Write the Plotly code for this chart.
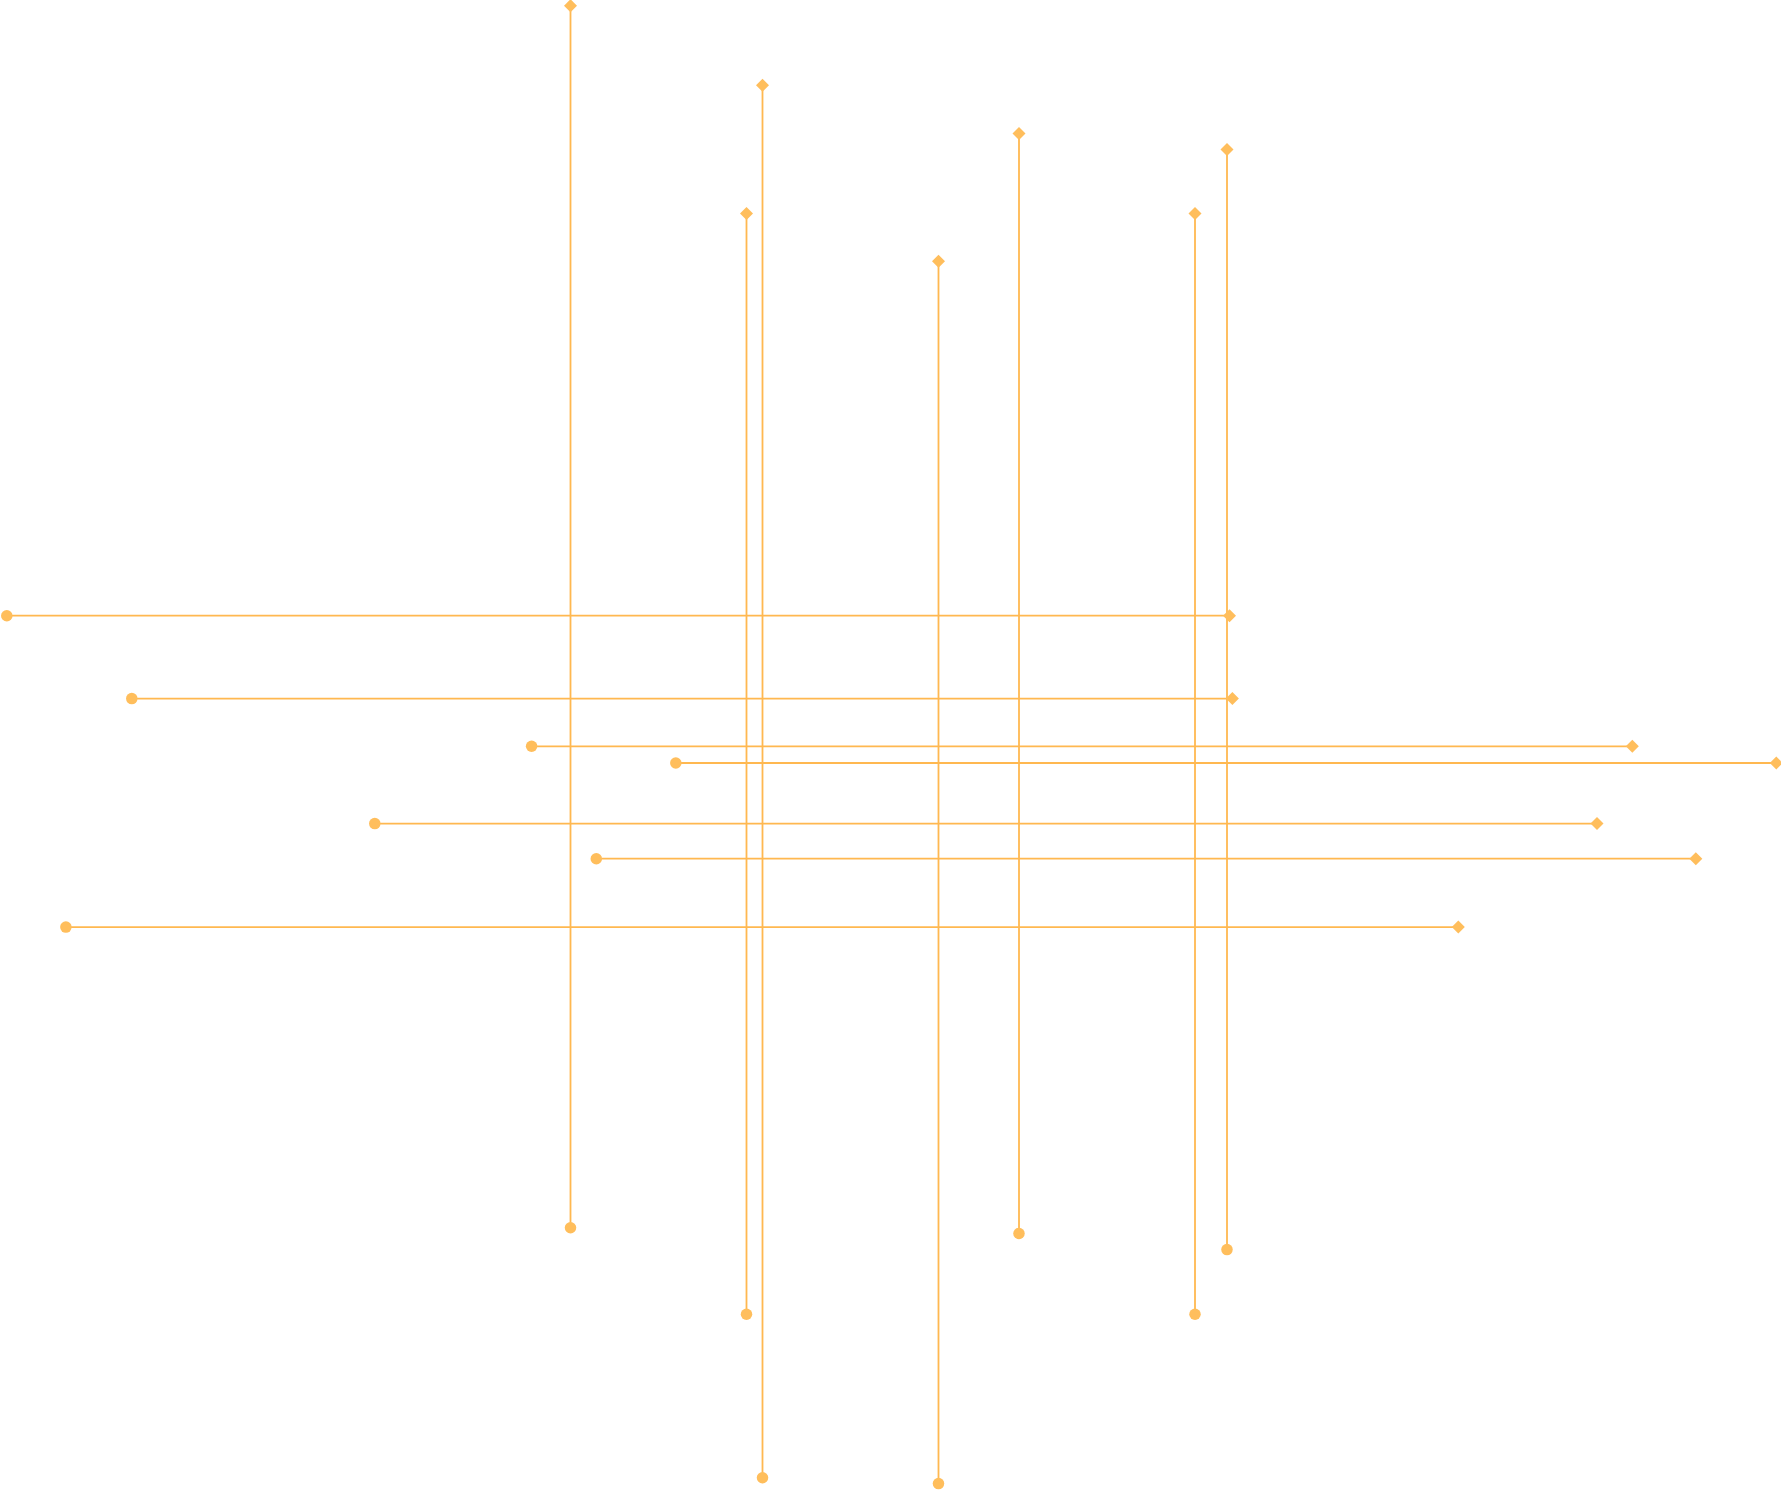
import plotly.graph_objects as go

# Vertical dumbbells: x position, start (circle, bottom) and end (diamond, top)
v_x = [570.5, 746.5, 762.5, 938.5, 1019, 1195, 1227]
v_start = [1227.8, 1314.2, 1477.7, 1483.6, 1233.5, 1314.2, 1249.6]
v_end = [5.7, 213.4, 85.3, 261.2, 133.5, 213.6, 149.5]

# Horizontal dumbbells: y position, start (circle, left) and end (diamond, right)
h_y = [615.7, 698.6, 746.3, 763.0, 823.6, 858.7, 927.1]
h_start = [6.8, 131.8, 531.6, 675.8, 374.8, 596.3, 65.9]
h_end = [1229.5, 1232.4, 1632.3, 1776.3, 1597.0, 1695.8, 1458.3]

LINE_COLOR = "#FFB850"
MARKER_COLOR = "#FFBE5C"

fig = go.Figure()
for x, s, e in zip(v_x, v_start, v_end):
    fig.add_trace(go.Scatter(
        x=[x, x], y=[s, e], mode="lines+markers",
        line=dict(color=LINE_COLOR, width=1.8),
        marker=dict(color=MARKER_COLOR, size=[11.5, 10], symbol=["circle", "diamond"],
                    line=dict(width=0), opacity=1),
        cliponaxis=False, hoverinfo="skip", showlegend=False,
    ))
for y, s, e in zip(h_y, h_start, h_end):
    fig.add_trace(go.Scatter(
        x=[s, e], y=[y, y], mode="lines+markers",
        line=dict(color=LINE_COLOR, width=1.8),
        marker=dict(color=MARKER_COLOR, size=[11.5, 10], symbol=["circle", "diamond"],
                    line=dict(width=0), opacity=1),
        cliponaxis=False, hoverinfo="skip", showlegend=False,
    ))

fig.update_layout(
    width=1781, height=1490,
    margin=dict(l=0, r=0, t=0, b=0),
    paper_bgcolor="white", plot_bgcolor="white",
    xaxis=dict(range=[0, 1781], visible=False, fixedrange=True),
    yaxis=dict(range=[1490, 0], visible=False, fixedrange=True),
)
fig.write_html(
    "out.html",
    config={"displayModeBar": False},
    post_script="document.body.style.margin='0';document.body.style.overflow='hidden';",
)
